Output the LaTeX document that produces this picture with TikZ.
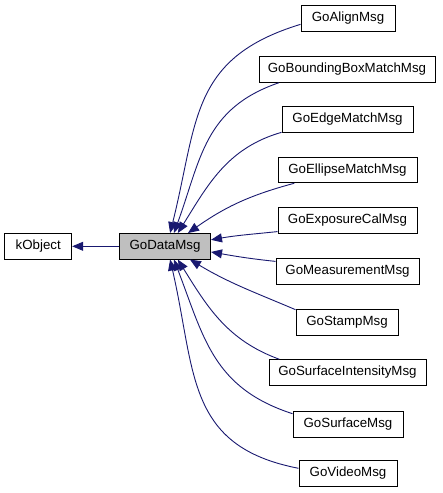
\documentclass[tikz,border=0pt]{standalone}
\usepackage{fontspec}
\setmainfont{Liberation Sans}
\usetikzlibrary{arrows.meta}
\definecolor{inhLine}{HTML}{191970}
\definecolor{curFill}{HTML}{BFBFBF}
\tikzset{
  inhfig/.style={
    x=1pt, y=-1pt,
    every node/.append style={font=\fontsize{13.3}{16}\selectfont},
  },
  classbox/.style={
    draw=black, line width=1pt, fill=white, inner sep=0pt,
    minimum height=25.5pt,
  },
  curbox/.style={classbox, fill=curFill},
  % Vererbung: Pfeil zeigt auf die Basisklasse.
  inherit/.style={
    draw=inhLine, line width=0.9pt,
    -{Triangle[length=11pt, width=9pt]},
  },
}

\begin{document}
\begin{tikzpicture}[inhfig]
  \useasboundingbox (0,0) rectangle (443,493);
  \node[classbox, minimum width=67pt] (kObject) at (38.2,246.3) {kObject};
  \node[curbox, minimum width=91pt] (GoDataMsg) at (165,246.3) {GoDataMsg};
  \node[classbox, minimum width=94pt] (GoAlignMsg) at (348,18.5) {GoAlignMsg};
  \node[classbox, minimum width=176pt] (GoBoundingBoxMatchMsg) at (347,69.5) {GoBoundingBoxMatchMsg};
  \node[classbox, minimum width=131pt] (GoEdgeMatchMsg) at (347.5,119.5) {GoEdgeMatchMsg};
  \node[classbox, minimum width=139pt] (GoEllipseMatchMsg) at (347.5,170) {GoEllipseMatchMsg};
  \node[classbox, minimum width=139pt] (GoExposureCalMsg) at (347.5,220.5) {GoExposureCalMsg};
  \node[classbox, minimum width=143pt] (GoMeasurementMsg) at (347.5,271.5) {GoMeasurementMsg};
  \node[classbox, minimum width=102pt] (GoStampMsg) at (347,322.5) {GoStampMsg};
  \node[classbox, minimum width=157pt] (GoSurfaceIntensityMsg) at (347.5,372.5) {GoSurfaceIntensityMsg};
  \node[classbox, minimum width=110pt] (GoSurfaceMsg) at (348,424.5) {GoSurfaceMsg};
  \node[classbox, minimum width=98pt] (GoVideoMsg) at (348,473.5) {GoVideoMsg};
  \draw[inherit] (GoDataMsg) -- (kObject);
  \draw[inherit] (GoAlignMsg.187) to[out=197, in=76, looseness=1.2] (GoDataMsg.69);
  \draw[inherit] (GoBoundingBoxMatchMsg.191) to[out=199, in=70, looseness=1.1] (GoDataMsg.56);
  \draw[inherit] (GoEdgeMatchMsg.191) to[out=196, in=58] (GoDataMsg.46);
  \draw[inherit] (GoEllipseMatchMsg.194) to[out=195, in=35] (GoDataMsg.30);
  \draw[inherit] (GoExposureCalMsg.189) to[out=186, in=10] (GoDataMsg.8);
  \draw[inherit] (GoMeasurementMsg.172) to[out=174, in=350] (GoDataMsg.353);
  \draw[inherit] (GoStampMsg.166) to[out=157, in=329] (GoDataMsg.332);
  \draw[inherit] (GoSurfaceIntensityMsg.169) to[out=160, in=302] (GoDataMsg.314);
  \draw[inherit] (GoSurfaceMsg.169) to[out=162, in=291, looseness=1.1] (GoDataMsg.304);
  \draw[inherit] (GoVideoMsg.174) to[out=169, in=283, looseness=1.2] (GoDataMsg.291);
\end{tikzpicture}
\end{document}
